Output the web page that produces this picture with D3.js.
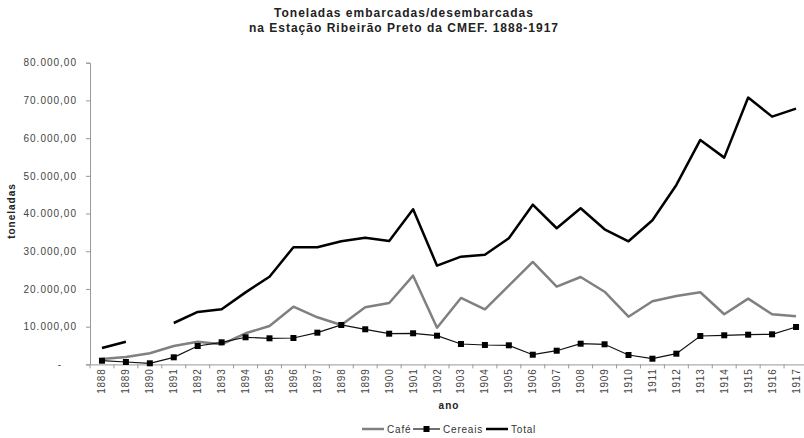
<!DOCTYPE html>
<html>
<head>
<meta charset="utf-8">
<script src="https://cdn.jsdelivr.net/npm/d3@7.9.0/dist/d3.min.js"></script>
<style>
  body { margin: 0; background: #fff; }
  svg { display: block; font-family: "Liberation Sans", Arial, sans-serif; }
</style>
</head>
<body>
<svg id="chart" width="804" height="438"></svg>
<script>
// values (toneladas)
const years = d3.range(1888, 1918).map(String);
const cafe = [1430, 1960, 2940, 4880, 6020, 5330, 8250, 10190, 15300, 12490,
  10450, 15150, 16290, 23530, 9730, 17610, 14610, 20880, 27160, 20610,
  23180, 19280, 12650, 16740, 18140, 19120, 13290, 17430, 13290, 12760];
const cereais = [980, 640, 290, 1880, 4880, 5860, 7190, 6920, 7000, 8410,
  10450, 9310, 8140, 8250, 7610, 5410, 5150, 5060, 2570, 3630,
  5490, 5330, 2490, 1510, 2840, 7530, 7720, 7880, 7980, 9920];
// 1890 has no total in the source
const total = [4350, 6020, null, 10980, 13900, 14610, 19100, 23260, 31060, 31060,
  32650, 33610, 32730, 41140, 26180, 28570, 29100, 33450, 42360, 36100,
  41400, 35830, 32650, 38220, 47590, 59520, 54830, 70750, 65700, 67830];
const yTicks = [0, 10000, 20000, 30000, 40000, 50000, 60000, 70000, 80000];

const svg = d3.select('#chart');
const x = d3.scaleBand().domain(years).range([90, 808]);
const y = d3.scaleLinear().domain([0, 80000]).range([364.4, 62.7]);
const cx = (i) => x(years[i]) + x.bandwidth() / 2;

const fmt = (v) => v === 0 ? '-' :
  d3.format(',')(v).replace(/,/g, '.') + ',00';

// title
svg.append('text')
  .attr('x', 404).attr('y', 17)
  .attr('text-anchor', 'middle')
  .attr('font-size', 12).attr('font-weight', 'bold')
  .attr('letter-spacing', 1).attr('fill', '#222')
  .text('Toneladas embarcadas/desembarcadas');
svg.append('text')
  .attr('x', 404).attr('y', 32)
  .attr('text-anchor', 'middle')
  .attr('font-size', 12).attr('font-weight', 'bold')
  .attr('letter-spacing', 1).attr('fill', '#222')
  .text('na Estação Ribeirão Preto da CMEF. 1888-1917');

// y axis
const yAxis = svg.append('g')
  .attr('transform', 'translate(90,0)')
  .call(d3.axisLeft(y).tickValues(yTicks).tickFormat(fmt).tickSize(4).tickPadding(9));
yAxis.select('.domain').attr('stroke', '#999');
yAxis.selectAll('.tick line').attr('stroke', '#999');
yAxis.selectAll('.tick text')
  .attr('font-size', 10).attr('letter-spacing', 1).attr('fill', '#444')
  .attr('font-family', '"Liberation Sans", Arial, sans-serif');
yAxis.selectAll('.tick').filter((d) => d === 0).select('text').attr('dx', -15);

// x axis, ticks between the categories
const xAxis = svg.append('g')
  .attr('transform', 'translate(0,364.4)')
  .call(d3.axisBottom(x).tickSize(0).tickPadding(4));
xAxis.select('.domain').attr('stroke', '#999');
xAxis.selectAll('.tick text')
  .attr('font-size', 10).attr('letter-spacing', 0.8).attr('fill', '#444')
  .attr('font-family', '"Liberation Sans", Arial, sans-serif')
  .attr('transform', 'rotate(-90)')
  .attr('text-anchor', 'end')
  .attr('x', -4).attr('y', 0).attr('dy', '0.35em');
svg.append('g').selectAll('line')
  .data(d3.range(years.length + 1))
  .join('line')
  .attr('x1', (i) => 90 + i * x.step()).attr('x2', (i) => 90 + i * x.step())
  .attr('y1', 364.4).attr('y2', 368.4)
  .attr('stroke', '#999');

// axis titles
svg.append('text')
  .attr('transform', 'translate(15,211) rotate(-90)')
  .attr('text-anchor', 'middle')
  .attr('font-size', 10).attr('font-weight', 'bold').attr('letter-spacing', 1)
  .attr('fill', '#222')
  .text('toneladas');
svg.append('text')
  .attr('x', 449).attr('y', 409)
  .attr('text-anchor', 'middle')
  .attr('font-size', 10).attr('font-weight', 'bold').attr('letter-spacing', 1)
  .attr('fill', '#222')
  .text('ano');

// lines
const line = d3.line()
  .defined((d) => d != null)
  .x((d, i) => cx(i))
  .y((d) => y(d));

svg.append('path').datum(cafe)
  .attr('d', line).attr('fill', 'none')
  .attr('stroke', '#808080').attr('stroke-width', 2.5).attr('stroke-linejoin', 'round');
svg.append('path').datum(cereais)
  .attr('d', line).attr('fill', 'none')
  .attr('stroke', '#111').attr('stroke-width', 1.2);
svg.append('g').selectAll('rect')
  .data(cereais)
  .join('rect')
  .attr('x', (d, i) => cx(i) - 3).attr('y', (d) => y(d) - 3)
  .attr('width', 6).attr('height', 6)
  .attr('fill', '#000');
svg.append('path').datum(total)
  .attr('d', line).attr('fill', 'none')
  .attr('stroke', '#000').attr('stroke-width', 2.5).attr('stroke-linejoin', 'round');

// legend
const legend = [
  { name: 'Café', x: 362, color: '#808080', w: 2.5, marker: false },
  { name: 'Cereais', x: 413, color: '#111', w: 1.2, marker: true },
  { name: 'Total', x: 486, color: '#000', w: 2.5, marker: false },
];
const lg = svg.append('g').selectAll('g').data(legend).join('g')
  .attr('transform', (d) => `translate(${d.x},429)`);
lg.append('line')
  .attr('x1', 0).attr('x2', (d) => d.marker ? 27 : 22)
  .attr('stroke', (d) => d.color).attr('stroke-width', (d) => d.w);
lg.filter((d) => d.marker).append('rect')
  .attr('x', 10.5).attr('y', -3).attr('width', 6).attr('height', 6).attr('fill', '#000');
lg.append('text')
  .attr('x', (d) => d.marker ? 30 : 25).attr('dy', '0.35em')
  .attr('font-size', 10).attr('letter-spacing', 0.8).attr('fill', '#333')
  .text((d) => d.name);
</script>
</body>
</html>
